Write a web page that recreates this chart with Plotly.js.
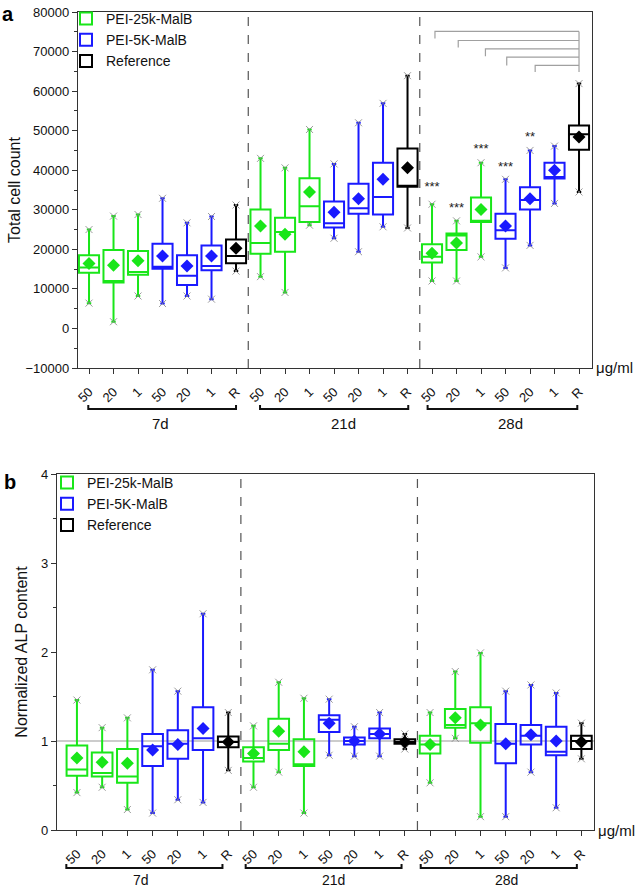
<!DOCTYPE html>
<html><head><meta charset="utf-8">
<script src="https://cdn.plot.ly/plotly-3.0.1.min.js"></script>
<style>html,body{margin:0;padding:0;background:#fff}</style>
</head><body><div id="chart" style="width:638px;height:890px"></div>
<script>
// ---- categories ----
const tickLabels = ['50','20','1','50','20','1','R','50','20','1','50','20','1','R','50','20','1','50','20','1','R'];
const positions  = [0,1,2,3,4,5,6,7,8,9,10,11,12,13,14,15,16,17,18,19,20];
const greenIdx = [0,1,2,7,8,9,14,15,16];
const blueIdx  = [3,4,5,10,11,12,17,18,19];
const refIdx   = [6,13,20];
const dayLabels = ['7d','21d','28d'];

// ---- panel a: total cell count ----
const cellMax  = [25000,28400,28800,32900,26700,28300,31200,43000,40600,50300,41600,52000,56900,63900,31400,27200,41900,37700,45000,46100,61900];
const cellQ3   = [18500,19800,19600,21400,18500,21000,22500,30100,28000,38000,32100,36600,41900,45500,21300,24000,33100,29000,35700,41900,51300];
const cellMed  = [15400,12000,14300,15600,13300,15800,18300,21600,24400,30900,26600,30400,33200,36100,18100,23500,27200,24800,32500,38300,49100];
const cellQ1   = [14100,11600,13600,15100,11000,14700,16500,18900,19400,26900,25500,29000,28800,35800,16700,19800,26900,22700,30100,37900,45200];
const cellMean = [16400,16000,17100,18300,15800,18300,20300,25900,23800,34500,29400,32800,37700,40600,19000,21600,30100,25900,32800,40000,48400];
const cellMin  = [6400,1700,8200,6300,8200,7400,14500,13100,9100,26100,22800,19400,25700,25400,12000,12000,18100,15300,21000,31600,34500];

// significance marks (panel a)
const sigPos   = [14,15,16,17,18];
const sigText  = ['***','***','***','***','**'];
const sigY     = [35600,30300,45200,40700,48300];
// comparison brackets (panel a): left position, bar level, left-tick bottom
const brLeft   = [14.12,15.07,16.18,17.05,18.21];
const brTop    = [75100,72800,70700,68600,66500];
const brBottom = [73300,71000,68800,66500,64800];
const brRight  = 20;

// ---- panel b: normalized ALP ----
const alpMax  = [1.46,1.15,1.26,1.80,1.56,2.43,1.32,1.17,1.66,1.48,1.47,1.16,1.32,1.08,1.32,1.78,1.99,1.56,1.63,1.54,1.20];
const alpQ3   = [0.95,0.87,0.91,1.08,1.12,1.38,1.05,0.93,1.25,1.02,1.29,1.04,1.14,1.02,1.06,1.36,1.38,1.19,1.18,1.16,1.06];
const alpMed  = [0.68,0.64,0.60,0.94,0.97,1.03,0.99,0.81,0.97,0.74,1.24,1.00,1.08,0.99,0.96,1.18,1.20,0.97,1.06,0.88,1.00];
const alpQ1   = [0.61,0.60,0.53,0.72,0.80,0.90,0.93,0.77,0.90,0.72,1.10,0.96,1.03,0.97,0.86,1.15,0.98,0.75,0.96,0.84,0.91];
const alpMean = [0.81,0.76,0.75,0.90,0.96,1.14,0.99,0.86,1.11,0.88,1.20,1.00,1.08,0.99,0.96,1.26,1.18,0.97,1.07,1.00,0.99];
const alpMin  = [0.42,0.48,0.23,0.19,0.34,0.31,0.67,0.48,0.65,0.19,0.84,0.83,0.83,0.91,0.53,1.03,0.15,0.15,0.65,0.25,0.80];

const series = [
  {name:'PEI-25k-MalB', idx:greenIdx, color:'#19e619'},
  {name:'PEI-5K-MalB',  idx:blueIdx,  color:'#1a1aff'},
  {name:'Reference',    idx:refIdx,   color:'#000000'}
];
const pick = (arr, idx) => idx.map(i => arr[i]);
const FONT = 'Arial, "Liberation Sans", sans-serif';

function panel(xa, ya, leg, s) {
  const tr = [];
  series.forEach(sr => {
    const xs = pick(positions, sr.idx);
    tr.push({type:'box', name:sr.name, legend:leg, xaxis:xa, yaxis:ya,
      x: xs, q1: pick(s.q1, sr.idx), median: pick(s.med, sr.idx), q3: pick(s.q3, sr.idx),
      lowerfence: pick(s.min, sr.idx), upperfence: pick(s.max, sr.idx),
      width: 0.82, whiskerwidth: 0.22, boxpoints: false,
      line:{color:sr.color, width:2}, fillcolor:'rgba(255,255,255,0)', hoverinfo:'skip'});
  });
  series.forEach(sr => {
    const xs = pick(positions, sr.idx);
    tr.push({type:'scatter', mode:'markers', showlegend:false, xaxis:xa, yaxis:ya,
      x: xs.concat(xs), y: pick(s.min, sr.idx).concat(pick(s.max, sr.idx)),
      marker:{symbol:'x-thin', size:7, line:{width:1, color:'rgba(130,130,130,0.8)'}}, hoverinfo:'skip'});
    tr.push({type:'scatter', mode:'markers', showlegend:false, xaxis:xa, yaxis:ya,
      x: xs, y: pick(s.mean, sr.idx),
      marker:{symbol:'diamond', size:10, color:sr.color}, hoverinfo:'skip'});
  });
  return tr;
}

const traces = panel('x','y','legend',{q1:cellQ1,med:cellMed,q3:cellQ3,min:cellMin,max:cellMax,mean:cellMean})
  .concat(panel('x2','y2','legend2',{q1:alpQ1,med:alpMed,q3:alpQ3,min:alpMin,max:alpMax,mean:alpMean}));

traces.push({type:'scatter', mode:'text', showlegend:false, xaxis:'x', yaxis:'y',
  x: sigPos, y: sigY, text: sigText, textfont:{family:FONT, size:13, color:'#222'}, hoverinfo:'skip'});

const H = 890, W = 638;
const py = px => (H - px) / H;
const pxX = px => px / W;

const axBase = {showline:true, mirror:true, linecolor:'#333', linewidth:1.2, ticks:'outside',
  ticklen:5, tickcolor:'#333', showgrid:false, zeroline:false, tickfont:{family:FONT, size:13, color:'#111'}};

const shapes = [];
const annotations = [];
[['x','y'],['x2','y2']].forEach(([xa, ya]) => {
  [6.5, 13.5].forEach(v => shapes.push({type:'line', xref:xa, yref:ya+' domain', x0:v, x1:v, y0:0, y1:1,
    line:{color:'#555', width:1.2, dash:'dash'}}));
});
shapes.push({type:'line', xref:'x2 domain', yref:'y2', x0:0, x1:1, y0:1, y1:1, layer:'below',
  line:{color:'#9a9a9a', width:1.2}});
// comparison brackets
brLeft.forEach((l, k) => {
  shapes.push({type:'path', xref:'x', yref:'y',
    path:`M${l},${brBottom[k]} L${l},${brTop[k]} L${brRight},${brTop[k]}`, line:{color:'#a0a0a0', width:1.2}});
});
shapes.push({type:'line', xref:'x', yref:'y', x0:brRight, x1:brRight, y0:brTop[0], y1:brBottom[4], line:{color:'#a0a0a0', width:1.2}});

// day group brackets under axes
const grpA = [[-0.03,6.0],[6.98,13.03],[13.82,19.93]];
const grpALab = [2.9,10.4,17.2];
const grpB = [[-0.42,5.77],[6.69,12.87],[13.63,19.82]];
const grpBLab = [2.55,10.16,17.04];
function grp(xa, g, lab, yLine, yText, fs) {
  g.forEach((r, k) => {
    const y0 = py(yLine), y1 = py(yLine - 4);
    shapes.push({type:'path', xref:xa, yref:'paper', path:`M${r[0]},${y1} L${r[0]},${y0} L${r[1]},${y0} L${r[1]},${y1}`,
      line:{color:'#111', width:2}});
    annotations.push({xref:xa, yref:'paper', x:lab[k], y:py(yText), text:dayLabels[k], showarrow:false,
      xanchor:'center', yanchor:'top', font:{family:FONT, size:fs, color:'#111'}});
  });
}
grp('x', grpA, grpALab, 409, 413, 15);
grp('x2', grpB, grpBLab, 868, 870, 14);

annotations.push({xref:'paper', yref:'paper', x:pxX(594), y:py(367), text:'μg/ml', showarrow:false, xanchor:'left', yanchor:'middle', font:{family:FONT, size:15, color:'#111'}});
annotations.push({xref:'paper', yref:'paper', x:pxX(596), y:py(830), text:'μg/ml', showarrow:false, xanchor:'left', yanchor:'middle', font:{family:FONT, size:15, color:'#111'}});
annotations.push({xref:'paper', yref:'paper', x:pxX(8), y:py(14), text:'<b>a</b>', showarrow:false, xanchor:'center', yanchor:'middle', font:{family:FONT, size:20, color:'#000'}});
annotations.push({xref:'paper', yref:'paper', x:pxX(10), y:py(482), text:'<b>b</b>', showarrow:false, xanchor:'center', yanchor:'middle', font:{family:FONT, size:20, color:'#000'}});

const layout = {
  width: W, height: H, margin:{l:0, r:0, t:0, b:0}, paper_bgcolor:'#fff', plot_bgcolor:'#fff',
  showlegend:true, boxmode:'overlay', font:{family:FONT, color:'#111'},
  xaxis: Object.assign({}, axBase, {domain:[pxX(78), pxX(592)], anchor:'y', range:[-0.45, 20.53],
    tickvals: positions, ticktext: tickLabels, tickangle:-45, ticklabelstandoff:5, tickfont:{family:FONT, size:13, color:'#111'}}),
  yaxis: Object.assign({}, axBase, {domain:[py(368), py(12)], anchor:'x', range:[-10000, 80000],
    tick0:0, dtick:10000, tickformat:'d',
    minor:{dtick:5000, ticks:'outside', ticklen:3, tickcolor:'#333'},
    title:{text:'Total cell count', font:{family:FONT, size:16, color:'#111'}, standoff:0}}),
  xaxis2: Object.assign({}, axBase, {domain:[pxX(57), pxX(594)], anchor:'y2', range:[-0.79, 20.5],
    tickvals: positions, ticktext: tickLabels, tickangle:-45, ticklabelstandoff:5, tickfont:{family:FONT, size:13, color:'#111'}}),
  yaxis2: Object.assign({}, axBase, {domain:[py(830), py(474)], anchor:'x2', range:[0, 4],
    tick0:0, dtick:1, minor:{dtick:0.5, ticks:'outside', ticklen:3, tickcolor:'#333'},
    title:{text:'Normalized ALP content', font:{family:FONT, size:16, color:'#111'}, standoff:9}}),
  legend:{x:pxX(66), y:py(3), xanchor:'left', yanchor:'top', bgcolor:'rgba(0,0,0,0)', font:{family:FONT, size:14, color:'#111'}},
  legend2:{x:pxX(47), y:py(467), xanchor:'left', yanchor:'top', bgcolor:'rgba(0,0,0,0)', font:{family:FONT, size:14, color:'#111'}},
  shapes: shapes, annotations: annotations
};

Plotly.newPlot('chart', traces, layout, {staticPlot:true, displayModeBar:false});
</script></body></html>
